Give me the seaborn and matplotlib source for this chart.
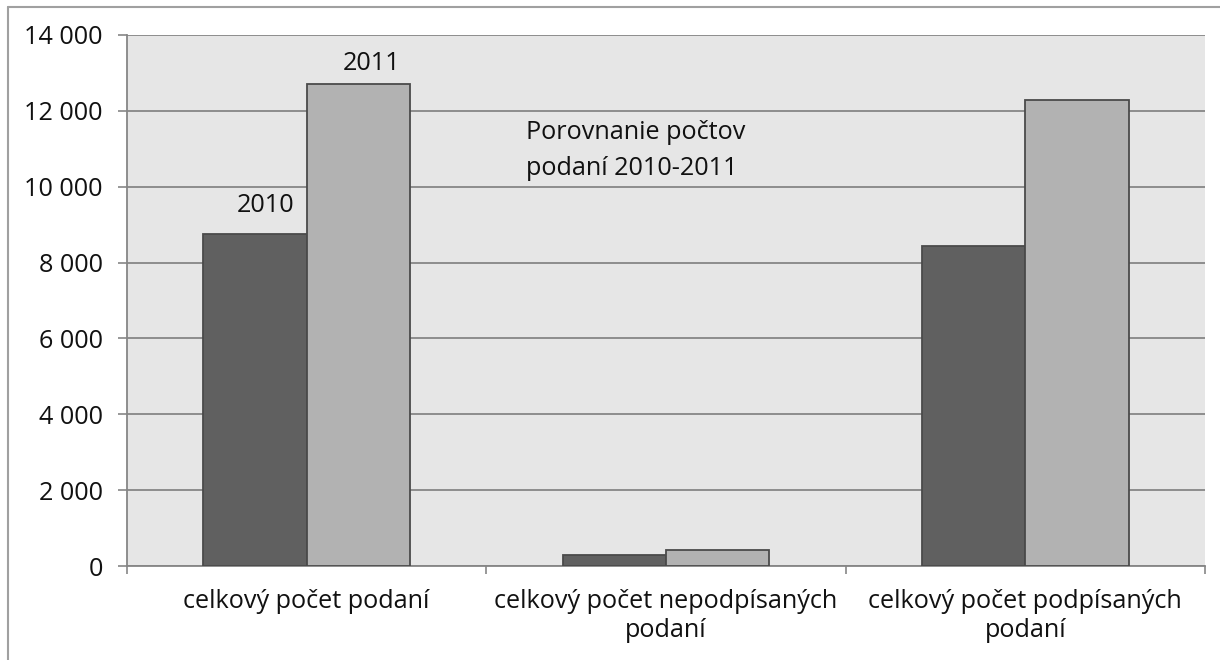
import matplotlib
matplotlib.use('Agg')
import matplotlib.pyplot as plt
import seaborn as sns
import pandas as pd
from matplotlib.ticker import FuncFormatter, FixedLocator
from matplotlib.lines import Line2D

categories = ["celkový počet podaní",
              "celkový počet nepodpísaných\npodaní",
              "celkový počet podpísaných\npodaní"]
years = ["2010", "2011"]
values_2010 = [8750, 290, 8450]
values_2011 = [12710, 420, 12290]
title_text = "Porovnanie počtov\npodaní 2010-2011"
yticks = [0, 2000, 4000, 6000, 8000, 10000, 12000, 14000]

sns.set_theme(style='white')
plt.rcParams['font.family'] = ['Open Sans', 'DejaVu Sans']

df = pd.DataFrame({
    'kategória': categories * 2,
    'rok': [years[0]] * 3 + [years[1]] * 3,
    'hodnota': values_2010 + values_2011,
})

W, H = 1220, 660
fig = plt.figure(figsize=(W / 100, H / 100), dpi=100)
fig.patch.set_facecolor('white')
ax = fig.add_axes([127 / W, 94 / H, 1078 / W, 531 / H])
ax.set_facecolor('#e6e6e6')

sns.barplot(data=df, x='kategória', y='hodnota', hue='rok', hue_order=years,
            palette=['#606060', '#b2b2b2'], width=0.575, saturation=1,
            edgecolor='#4a4a4a', linewidth=1.3, legend=False, ax=ax, zorder=3)

ax.set_xlim(-0.5, 2.5)
ax.set_ylim(0, 14000)
ax.yaxis.set_major_locator(FixedLocator(yticks))
ax.yaxis.set_major_formatter(FuncFormatter(lambda v, p: f"{int(v):,}".replace(",", " ")))
ax.grid(axis='y', color='#868686', linewidth=1.3, zorder=0)
ax.set_axisbelow(True)

for s in ['top', 'right']:
    ax.spines[s].set_visible(False)
for s in ['left', 'bottom']:
    ax.spines[s].set_color('#868686')
    ax.spines[s].set_linewidth(1.3)

txt_color = '#111111'
fs = 18.2
ax.tick_params(axis='y', length=6.5, width=1.2, color='#868686', pad=11,
               labelsize=fs, labelcolor=txt_color, left=True)
ax.tick_params(axis='x', which='major', length=0, pad=16.5, labelsize=fs,
               labelcolor=txt_color)
ax.xaxis.set_minor_locator(FixedLocator([-0.5, 0.5, 1.5, 2.5]))
ax.tick_params(axis='x', which='minor', length=5.5, width=1.2, color='#868686',
               bottom=True, direction='out')
for lbl in ax.get_xticklabels():
    lbl.set_linespacing(1.2)
ax.set_xlabel('')
ax.set_ylabel('')

# year labels above first group
b10 = ax.containers[0][0]
b11 = ax.containers[1][0]
ax.annotate(years[0], xy=(b10.get_x() + b10.get_width() / 2, b10.get_height()),
            xytext=(11, 22), textcoords='offset pixels', ha='center', va='baseline',
            fontsize=fs, color=txt_color)
ax.annotate(years[1], xy=(b11.get_x() + b11.get_width() / 2, b11.get_height()),
            xytext=(13, 14), textcoords='offset pixels', ha='center', va='baseline',
            fontsize=fs, color=txt_color)

ax.text((526 - 127) / 1078, (566 - 175) / 531, title_text, transform=ax.transAxes,
        ha='left', va='baseline', fontsize=fs, color=txt_color, linespacing=1.6)

# outer frame (cut off at right and bottom)
fig.add_artist(Line2D([8 / W, 1], [1 - 7 / H, 1 - 7 / H], transform=fig.transFigure,
                      color='#a0a0a0', linewidth=1.5))
fig.add_artist(Line2D([8 / W, 8 / W], [0, 1 - 7 / H], transform=fig.transFigure,
                      color='#a0a0a0', linewidth=1.5))

fig.savefig('out.png', dpi=100)
